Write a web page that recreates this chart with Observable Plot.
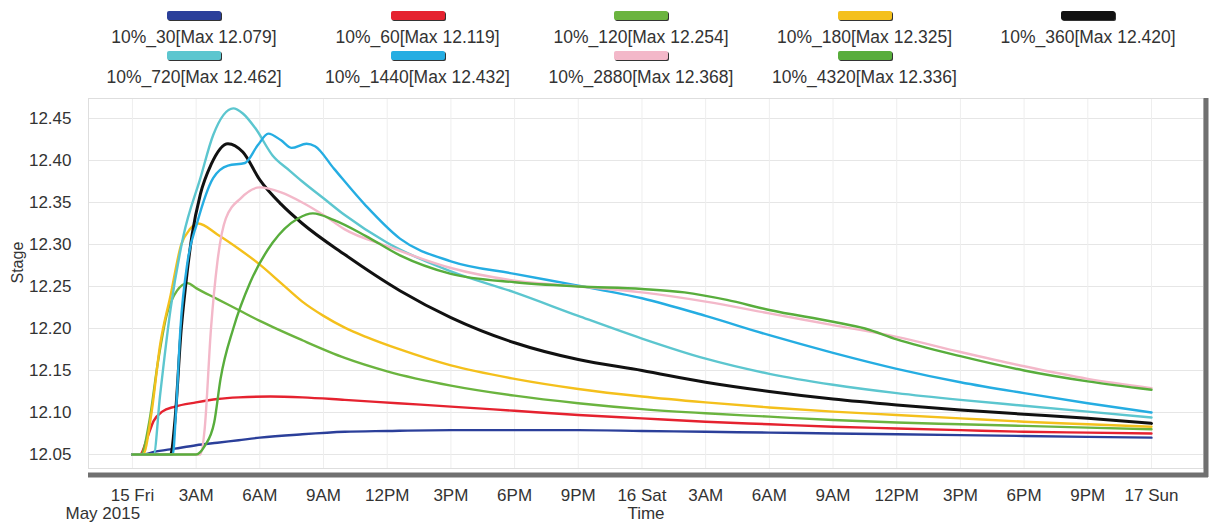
<!DOCTYPE html>
<html><head><meta charset="utf-8">
<script src="https://cdn.jsdelivr.net/npm/d3@7"></script>
<script src="https://cdn.jsdelivr.net/npm/@observablehq/plot@0.6"></script>
<style>
body{margin:0;background:#fff;font-family:"Liberation Sans",Arial,sans-serif;}
#legend{position:relative;width:1215px;height:90px;}
.sw{position:absolute;width:54px;height:9px;border-radius:2px;box-shadow:1px 1px 0 #333;}
.lb{position:absolute;width:240px;text-align:center;font-size:17.5px;line-height:18px;color:#333;white-space:nowrap;}
</style></head><body>
<div id="legend"></div><div id="chart"></div>
<script>
const seriesNames = ["10%_30","10%_60","10%_120","10%_180","10%_360","10%_720","10%_1440","10%_2880","10%_4320"];
const seriesMax = ["12.079","12.119","12.254","12.325","12.420","12.462","12.432","12.368","12.336"];
const seriesColors = ["#2b3f9a","#e5222f","#6bb43f","#f4c01c","#111111","#5cc6cf","#25ade2","#f3b8c9","#58ad3c"];
const stageTicks = [12.05,12.10,12.15,12.20,12.25,12.30,12.35,12.40,12.45];
const tickHours = [0,3,6,9,12,15,18,21,24,27,30,33,36,39,42,45,48];
const dayNames = ["Sun","Mon","Tue","Wed","Thu","Fri","Sat"];

// [hours since 15 May 2015 00:00, stage]
const s30 = [[0,12.05],[0.5,12.05],[1,12.053],[2,12.057],[3,12.061],[4,12.064],[5,12.067],[6,12.07],[8,12.074],[10,12.077],[12,12.078],[15,12.079],[18,12.079],[21,12.079],[24,12.078],[27,12.077],[30,12.076],[33,12.075],[36,12.074],[39,12.073],[42,12.072],[45,12.071],[48,12.070]];
const s60 = [[0,12.05],[0.35,12.05],[0.7,12.07],[1.0,12.09],[1.4,12.101],[2,12.107],[3,12.112],[4,12.116],[5,12.118],[6.5,12.119],[8,12.118],[10,12.115],[12.5,12.111],[15,12.107],[18,12.102],[21,12.097],[24,12.093],[27,12.089],[30,12.086],[33,12.083],[36,12.081],[39,12.079],[42,12.077],[45,12.076],[48,12.075]];
const s120 = [[0,12.05],[0.4,12.05],[0.8,12.09],[1.2,12.16],[1.6,12.215],[2.1,12.245],[2.6,12.254],[3,12.248],[4,12.235],[5,12.222],[6,12.209],[8,12.186],[10,12.165],[12,12.149],[15,12.132],[18,12.12],[21,12.111],[24,12.104],[27,12.099],[30,12.095],[33,12.091],[36,12.088],[39,12.086],[42,12.084],[45,12.082],[48,12.080]];
const s180 = [[0,12.05],[0.5,12.05],[0.9,12.1],[1.3,12.18],[1.8,12.24],[2.3,12.3],[2.7,12.318],[3.1,12.325],[4,12.312],[5,12.295],[6,12.276],[7,12.254],[8,12.232],[9,12.215],[10,12.201],[11,12.19],[12.6,12.175],[15,12.156],[18,12.14],[21,12.128],[24,12.119],[27,12.112],[30,12.106],[33,12.101],[36,12.097],[39,12.093],[42,12.089],[45,12.086],[48,12.083]];
const s360 = [[0,12.05],[1.8,12.05],[2.0,12.09],[2.3,12.2],[2.5,12.25],[2.8,12.31],[3.2,12.36],[3.7,12.395],[4.5,12.42],[5.2,12.41],[6.0,12.377],[7,12.348],[8,12.325],[10,12.288],[12.6,12.245],[15,12.213],[18,12.183],[21,12.163],[24,12.15],[27,12.136],[30,12.125],[33,12.116],[36,12.109],[39,12.103],[42,12.098],[45,12.093],[48,12.087]];
const s720 = [[0,12.05],[1.0,12.05],[1.3,12.12],[1.8,12.224],[2.4,12.31],[3.2,12.379],[3.8,12.43],[4.75,12.462],[5.2,12.456],[5.8,12.438],[6.6,12.406],[7.4,12.388],[8,12.375],[9,12.355],[10,12.335],[12,12.302],[15,12.268],[18,12.243],[21,12.215],[24,12.188],[27,12.164],[30,12.146],[33,12.133],[36,12.123],[39,12.115],[42,12.108],[45,12.101],[48,12.094]];
const s1440 = [[0,12.05],[1.9,12.05],[2.05,12.1],[2.26,12.2],[2.6,12.28],[3.05,12.326],[3.8,12.379],[4.5,12.394],[5.3,12.397],[5.9,12.418],[6.4,12.432],[7.0,12.424],[7.5,12.415],[8.2,12.42],[8.6,12.417],[9.5,12.39],[11,12.346],[12.6,12.307],[15,12.28],[18,12.265],[21,12.251],[24,12.236],[27,12.215],[30,12.192],[33,12.171],[36,12.152],[39,12.136],[42,12.123],[45,12.111],[48,12.100]];
const s2880 = [[0,12.05],[3.2,12.05],[3.4,12.08],[3.7,12.2],[4.0,12.279],[4.4,12.331],[5.1,12.355],[6.0,12.368],[7,12.362],[8,12.35],[9,12.335],[10,12.318],[12,12.298],[15,12.272],[18,12.257],[21,12.25],[24,12.243],[27,12.232],[30,12.218],[33,12.204],[36,12.19],[39,12.172],[42,12.155],[45,12.14],[48,12.129]];
const s4320 = [[0,12.05],[3.0,12.05],[3.4,12.06],[3.85,12.088],[4.15,12.14],[4.75,12.2],[5.55,12.255],[6.6,12.302],[7.8,12.331],[8.5,12.337],[9.5,12.329],[11,12.31],[12.6,12.287],[15,12.265],[18,12.255],[21,12.25],[24,12.247],[26,12.243],[28,12.234],[30,12.222],[33,12.208],[34.5,12.2],[36,12.187],[39,12.167],[42,12.15],[45,12.137],[48,12.127]];
const allSeries = [s30,s60,s120,s180,s360,s720,s1440,s2880,s4320];

const H = 3600000;
const base = Date.UTC(2015,4,15);
const data = allSeries.flatMap((s,i)=>s.map(([h,v])=>({series:seriesNames[i], time:new Date(base+h*H), stage:v})));
const tickDates = tickHours.map(h=>new Date(base+h*H));
function fmt(d){const h=d.getUTCHours(); if(h===0) return d.getUTCDate()+" "+dayNames[d.getUTCDay()]; const hh=h%12===0?12:h%12; return hh+(h<12?"AM":"PM");}

// legend
const legend = document.getElementById("legend");
seriesNames.forEach((n,i)=>{
  const col=i%5, row=Math.floor(i/5);
  const cx=194+col*223.5, top=11+row*40;
  const sw=document.createElement("div"); sw.className="sw";
  sw.style.left=(cx-27)+"px"; sw.style.top=top+"px"; sw.style.background=seriesColors[i];
  legend.appendChild(sw);
  const lb=document.createElement("div"); lb.className="lb";
  lb.style.left=(cx-120)+"px"; lb.style.top=(top+17)+"px";
  lb.textContent=n+"[Max "+seriesMax[i]+"]";
  legend.appendChild(lb);
});

const yDomain=[12.0333,12.4738];
const xDomain=[new Date(base-2.07*H), new Date(base+50.45*H)];
const lines = seriesNames.map((n,i)=>Plot.line(data.filter(d=>d.series===n),{x:"time",y:"stage",stroke:"series",curve:"monotone-x",strokeWidth:n==="10%_360"?3:2.4}));

const chart = Plot.plot({
  width:1215, height:437, marginTop:8, marginBottom:59, marginLeft:88, marginRight:12,
  style:{fontFamily:'"Liberation Sans", Arial, sans-serif', fontSize:"17px", color:"#333", background:"#fff", overflow:"visible"},
  x:{type:"utc", domain:xDomain},
  y:{domain:yDomain},
  color:{domain:seriesNames, range:seriesColors},
  marks:[
    Plot.gridY(stageTicks,{stroke:"#e6e6e6", strokeOpacity:1}),
    Plot.gridX(tickDates,{stroke:"#eeeeee", strokeOpacity:1}),
    Plot.frame({stroke:"#dedede"}),
    Plot.axisY(stageTicks,{tickSize:0, tickPadding:17, tickFormat:d3.format(".2f"), label:null}),
    Plot.axisX(tickDates,{tickSize:0, tickPadding:20, tickFormat:fmt, label:null}),
    ...lines,
    Plot.ruleY([yDomain[0]],{stroke:"#707070", strokeWidth:5, dy:6.5, insetRight:-5}),
    Plot.ruleX([xDomain[1]],{stroke:"#707070", strokeWidth:5, dx:2.5, insetBottom:-9}),
    Plot.text(["Time"],{text:d=>d, frameAnchor:"bottom", dy:45, lineAnchor:"middle"}),
    Plot.text(["May 2015"],{text:d=>d, frameAnchor:"bottom-left", dx:-23, dy:45, textAnchor:"start", lineAnchor:"middle"}),
    Plot.text(["Stage"],{text:d=>d, frameAnchor:"left", dx:-71, rotate:-90, lineAnchor:"middle", fontSize:16})
  ]
});
document.getElementById("chart").appendChild(chart);
</script></body></html>
